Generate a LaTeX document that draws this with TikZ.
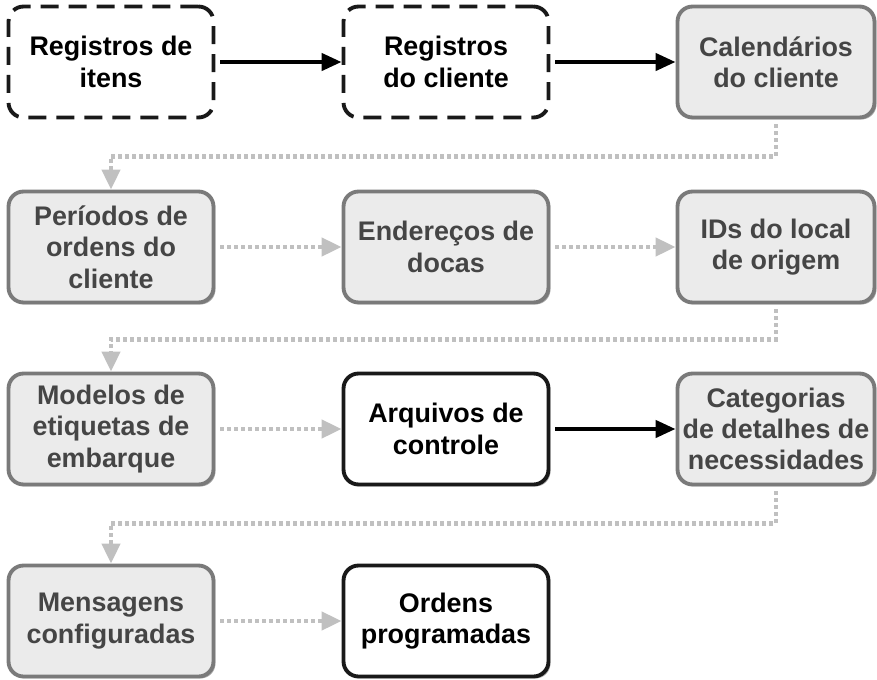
\documentclass[tikz,border=0pt]{standalone}
\usepackage{fontspec}
\setmainfont{Liberation Sans}
\usetikzlibrary{arrows.meta,positioning,shadows}

\definecolor{boxgray}{HTML}{EBEBEB}
\definecolor{linegray}{HTML}{7A7A7A}
\definecolor{textgray}{HTML}{454545}
\definecolor{dotgray}{HTML}{C0C0C0}

\tikzset{
  stage/.style={rounded corners=0.3cm, minimum width=4.1cm, minimum height=2.22cm,
    align=center, inner sep=0pt, line width=2.2pt,
    font=\fontsize{15.3}{17.8}\selectfont\bfseries},
  optional/.style={stage, draw=black!90, fill=white, dash pattern=on 0.36cm off 0.2cm},
  pending/.style={stage, draw=linegray, fill=boxgray, text=textgray,
    drop shadow={shadow xshift=0.04cm, shadow yshift=-0.04cm, fill=black!55, opacity=0.6}},
  current/.style={stage, draw=black!90, fill=white,
    drop shadow={shadow xshift=0.04cm, shadow yshift=-0.04cm, fill=black!55, opacity=0.6}},
  next/.style={-{Triangle[length=0.4cm,width=0.34cm]}, line width=0.085cm, shorten <=0.1cm},
  later/.style={dotgray, line width=0.085cm, dash pattern=on 0.08cm off 0.06cm,
    -{Triangle[length=0.4cm,width=0.36cm]}, shorten <=0.1cm},
}

\begin{document}
\begin{tikzpicture}[x=0.02cm,y=-0.02cm]
    \useasboundingbox (0,0) rectangle (877,680);

    % first row
    \node[optional] (itens) at (111,62) {Registros de\\itens};
    \node[optional] (cliente) at (446,62) {Registros\\do cliente};
    \node[pending, minimum width=3.94cm] (calendarios) at (776,62) {Calendários\\do cliente};

    % second row
    \node[pending] (periodos) at (111,247) {Períodos de\\ordens do\\cliente};
    \node[pending] (enderecos) at (446,247) {Endereços de\\docas};
    \node[pending, minimum width=3.94cm] (origem) at (776,247) {IDs do local\\de origem};

    % third row
    \node[pending] (modelos) at (111,429) {Modelos de\\etiquetas de\\embarque};
    \node[current] (arquivos) at (446,429) {Arquivos de\\controle};
    \node[pending, minimum width=3.94cm] (categorias) at (776,429) {Categorias\\de detalhes de\\necessidades};

    % fourth row
    \node[pending] (mensagens) at (111,621) {Mensagens\\configuradas};
    \node[current] (ordens) at (446,621) {Ordens\\programadas};

    \draw[next] (itens) -- (cliente);
    \draw[next] (cliente) -- (calendarios);
    \draw[next] (arquivos) -- (categorias);

    \draw[later] (periodos) -- (enderecos);
    \draw[later] (enderecos) -- (origem);
    \draw[later] (modelos) -- (arquivos);
    \draw[later] (mensagens) -- (ordens);

    \draw[later] (calendarios.south) -- ++(0,37) -| (periodos.north);
    \draw[later] (origem.south) -- ++(0,35) -| (modelos.north);
    \draw[later] (categorias.south) -- ++(0,37) -| (mensagens.north);
\end{tikzpicture}
\end{document}
